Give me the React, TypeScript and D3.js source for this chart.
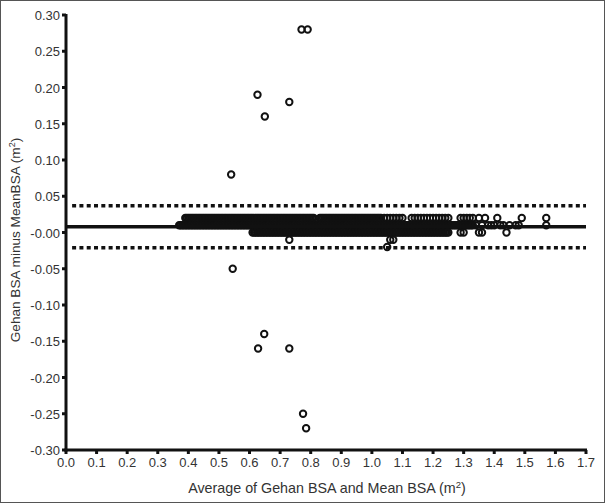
import * as d3 from "d3";

// Bland-Altman data. Each array holds the x (average BSA, m2) values of the
// points that sit at one difference value (Gehan BSA - Mean BSA).
const row002 = [
  0.39, 0.395, 0.40, 0.405, 0.41, 0.415, 0.42, 0.425, 0.43, 0.435,
  0.44, 0.445, 0.45, 0.455, 0.46, 0.465, 0.47, 0.475, 0.48, 0.485,
  0.49, 0.495, 0.50, 0.505, 0.51, 0.515, 0.52, 0.525, 0.53, 0.535,
  0.54, 0.545, 0.55, 0.555, 0.56, 0.565, 0.57, 0.575, 0.58, 0.585,
  0.59, 0.595, 0.60, 0.605, 0.61, 0.615, 0.62, 0.625, 0.63, 0.635,
  0.64, 0.645, 0.65, 0.655, 0.66, 0.665, 0.67, 0.675, 0.68, 0.685,
  0.69, 0.695, 0.70, 0.705, 0.71, 0.715, 0.72, 0.725, 0.73, 0.735,
  0.74, 0.745, 0.75, 0.755, 0.76, 0.765, 0.77, 0.775, 0.78, 0.785,
  0.79, 0.795, 0.80, 0.805, 0.81,
  0.83, 0.835, 0.84, 0.845, 0.85, 0.855, 0.86, 0.865, 0.87, 0.875,
  0.88, 0.885, 0.89, 0.895, 0.90, 0.905, 0.91, 0.915, 0.92, 0.925,
  0.93, 0.935, 0.94, 0.945, 0.95, 0.955, 0.96, 0.965, 0.97, 0.975,
  0.98, 0.985, 0.99, 0.995, 1.00, 1.005, 1.01, 1.015, 1.02, 1.025,
  1.03, 1.04, 1.05, 1.06, 1.07, 1.08, 1.09, 1.10,
  1.13, 1.14, 1.15, 1.16, 1.17, 1.18, 1.19, 1.20, 1.21, 1.22, 1.23, 1.24, 1.25,
  1.29, 1.30, 1.31, 1.32, 1.33, 1.35, 1.37, 1.41, 1.49, 1.57,
];
const row001 = [
  0.37, 0.375, 0.38, 0.385, 0.39, 0.395, 0.40, 0.405, 0.41, 0.415,
  0.42, 0.425, 0.43, 0.435, 0.44, 0.445, 0.45, 0.455, 0.46, 0.465,
  0.47, 0.475, 0.48, 0.485, 0.49, 0.495, 0.50, 0.505, 0.51, 0.515,
  0.52, 0.525, 0.53, 0.535, 0.54, 0.545, 0.55, 0.555, 0.56, 0.565,
  0.57, 0.575, 0.58, 0.585, 0.59, 0.595, 0.60, 0.605, 0.61, 0.615,
  0.62, 0.625, 0.63, 0.635, 0.64, 0.645, 0.65, 0.655, 0.66, 0.665,
  0.67, 0.675, 0.68, 0.685, 0.69, 0.695, 0.70, 0.705, 0.71, 0.715,
  0.72, 0.725, 0.73, 0.735, 0.74, 0.745, 0.75, 0.755, 0.76, 0.765,
  0.77, 0.775, 0.78, 0.785, 0.79, 0.795, 0.80, 0.805, 0.81, 0.815,
  0.82, 0.825, 0.83, 0.835, 0.84, 0.845, 0.85, 0.855, 0.86, 0.865,
  0.87, 0.875, 0.88, 0.885, 0.89, 0.895, 0.90, 0.905, 0.91, 0.915,
  0.92, 0.925, 0.93, 0.935, 0.94, 0.945, 0.95, 0.955, 0.96, 0.965,
  0.97, 0.975, 0.98, 0.985, 0.99, 0.995, 1.00, 1.005, 1.01, 1.015,
  1.02, 1.025, 1.03, 1.035, 1.04, 1.045, 1.05, 1.055, 1.06, 1.065,
  1.07, 1.075, 1.08, 1.085, 1.09, 1.095, 1.10, 1.105, 1.11, 1.115,
  1.12, 1.125, 1.13, 1.135, 1.14, 1.145, 1.15, 1.155, 1.16, 1.165,
  1.17, 1.175, 1.18, 1.185, 1.19, 1.195, 1.20, 1.205, 1.21, 1.215,
  1.22, 1.225, 1.23, 1.235, 1.24, 1.245, 1.25, 1.255, 1.26, 1.265,
  1.27, 1.275, 1.28, 1.285, 1.29, 1.295, 1.30, 1.305, 1.31, 1.315,
  1.32, 1.325, 1.33, 1.34, 1.36, 1.38, 1.39, 1.40, 1.42, 1.43,
  1.45, 1.47, 1.48, 1.57,
];
const row000 = [
  0.61, 0.615, 0.62, 0.625, 0.63, 0.635, 0.64, 0.645, 0.65, 0.655,
  0.66, 0.665, 0.67, 0.675, 0.68, 0.685, 0.69, 0.695, 0.70, 0.705,
  0.71, 0.715, 0.72, 0.725, 0.73, 0.735, 0.74, 0.745, 0.75, 0.755,
  0.76, 0.765, 0.77, 0.775, 0.78, 0.785, 0.79, 0.795, 0.80, 0.805,
  0.81, 0.815, 0.82, 0.825, 0.83, 0.835, 0.84, 0.845, 0.85, 0.855,
  0.86, 0.865, 0.87, 0.875, 0.88, 0.885, 0.89, 0.895, 0.90, 0.905,
  0.91, 0.915, 0.92, 0.925, 0.93, 0.935, 0.94, 0.945, 0.95, 0.955,
  0.96, 0.965, 0.97, 0.975, 0.98, 0.985, 0.99, 0.995, 1.00, 1.005,
  1.01, 1.015, 1.02, 1.025, 1.03, 1.035, 1.04, 1.045, 1.05, 1.055,
  1.06, 1.065, 1.07, 1.075, 1.08, 1.085, 1.09, 1.095, 1.10, 1.105,
  1.11, 1.115, 1.12, 1.125, 1.13, 1.135, 1.14, 1.145, 1.15, 1.155,
  1.16, 1.165, 1.17, 1.175, 1.18, 1.185, 1.19, 1.195, 1.20, 1.205,
  1.21, 1.215, 1.22, 1.225, 1.23, 1.235, 1.24, 1.245, 1.25,
  1.29, 1.30, 1.35, 1.36, 1.44,
];
const rowMinus001 = [0.73, 1.06, 1.07];
const rowMinus002 = [1.05];

// isolated outliers: [average, difference]
const outliers: [number, number][] = [
  [0.77, 0.28], [0.79, 0.28], [0.626, 0.19], [0.73, 0.18], [0.65, 0.16],
  [0.54, 0.08], [0.545, -0.05], [0.648, -0.14], [0.628, -0.16],
  [0.73, -0.16], [0.775, -0.25], [0.785, -0.27],
];

const meanDiff = 0.008;
const upperLimit = 0.037;
const lowerLimit = -0.021;

const yTicks = [0.3, 0.25, 0.2, 0.15, 0.1, 0.05, 0, -0.05, -0.1, -0.15, -0.2, -0.25, -0.3];
const yTickLabels = ["0.30", "0.25", "0.20", "0.15", "0.10", "0.05", "-0.00", "-0.05", "-0.10", "-0.15", "-0.20", "-0.25", "-0.30"];
const xTicks = [0, 0.1, 0.2, 0.3, 0.4, 0.5, 0.6, 0.7, 0.8, 0.9, 1.0, 1.1, 1.2, 1.3, 1.4, 1.5, 1.6, 1.7];

export default function App() {
  const width = 606;
  const height = 504;
  const x = d3.scaleLinear().domain([0, 1.7]).range([66, 586]);
  const y = d3.scaleLinear().domain([-0.3, 0.3]).range([450, 15]);

  const points: [number, number][] = [
    ...row002.map((v) => [v, 0.02] as [number, number]),
    ...row001.map((v) => [v, 0.01] as [number, number]),
    ...row000.map((v) => [v, 0] as [number, number]),
    ...rowMinus001.map((v) => [v, -0.01] as [number, number]),
    ...rowMinus002.map((v) => [v, -0.02] as [number, number]),
    ...outliers,
  ];

  const font = "'Liberation Sans', Arial, sans-serif";
  const textColor = "#333";

  return (
    <svg
      width={width}
      height={height}
      style={{ position: "absolute", left: 0, top: 0, background: "#fff" }}
    >
      <rect x={0.5} y={0.5} width={width - 2} height={height - 2} fill="#fff" stroke="#555" strokeWidth={1} />

      {/* limits of agreement */}
      {[upperLimit, lowerLimit].map((v) => (
        <line
          key={v}
          x1={x(0.02)}
          x2={x(1.7)}
          y1={y(v)}
          y2={y(v)}
          stroke="#111"
          strokeWidth={3.5}
          strokeDasharray="4,3.3"
        />
      ))}

      {/* data points */}
      <g fill="none" stroke="#111" strokeWidth={2}>
        {points.map((p, i) => (
          <circle key={i} cx={x(p[0])} cy={y(p[1])} r={3.2} />
        ))}
      </g>

      {/* mean difference */}
      <line x1={x(0)} x2={x(1.7)} y1={y(meanDiff)} y2={y(meanDiff)} stroke="#111" strokeWidth={3.5} />

      {/* y axis */}
      <line x1={x(0)} x2={x(0)} y1={y(0.3) - 1} y2={y(-0.3) + 1.5} stroke="#111" strokeWidth={3} />
      {yTicks.map((t, i) => (
        <g key={t}>
          <line x1={x(0) - 4} x2={x(0)} y1={y(t)} y2={y(t)} stroke="#111" strokeWidth={3} />
          <text
            x={x(0) - 6}
            y={y(t)}
            dy="0.4em"
            textAnchor="end"
            fontFamily={font}
            fontSize={13}
            fill={textColor}
          >
            {yTickLabels[i]}
          </text>
        </g>
      ))}

      {/* x axis */}
      <line x1={x(0) - 1.5} x2={x(1.7) + 1} y1={y(-0.3)} y2={y(-0.3)} stroke="#111" strokeWidth={3} />
      {xTicks.map((t) => (
        <g key={t}>
          <line x1={x(t)} x2={x(t)} y1={y(-0.3)} y2={y(-0.3) + 4} stroke="#111" strokeWidth={3} />
          <text
            x={x(t)}
            y={y(-0.3) + 17}
            textAnchor="middle"
            fontFamily={font}
            fontSize={13}
            fill={textColor}
          >
            {t.toFixed(1)}
          </text>
        </g>
      ))}

      <text x={327} y={493} textAnchor="middle" fontFamily={font} fontSize={14.3} fill={textColor}>
        Average of Gehan BSA and Mean BSA (m<tspan dy={-5} fontSize={9.5}>2</tspan>
        <tspan dy={5}>)</tspan>
      </text>
      <text
        transform={`translate(20, 240) rotate(-90)`}
        textAnchor="middle"
        fontFamily={font}
        fontSize={13.6}
        fill={textColor}
      >
        Gehan BSA minus MeanBSA (m<tspan dy={-5} fontSize={9}>2</tspan>
        <tspan dy={5}>)</tspan>
      </text>
    </svg>
  );
}
